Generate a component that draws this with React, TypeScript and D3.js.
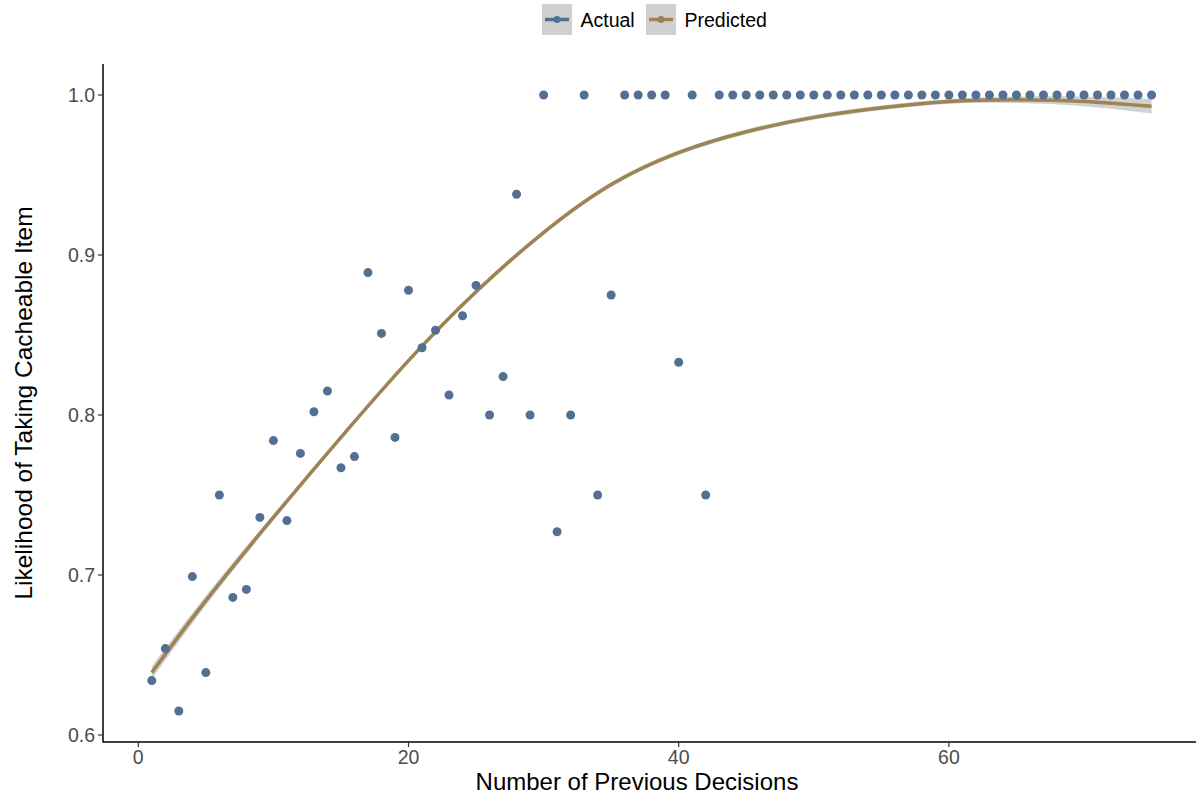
import * as d3 from "d3";

// observed: share of cacheable-item choices by number of previous decisions
const decisions = d3.range(1, 76);
const actual = [
  0.634, 0.654, 0.615, 0.699, 0.639, 0.75, 0.686, 0.691, 0.736, 0.784,
  0.734, 0.776, 0.802, 0.815, 0.767, 0.774, 0.889, 0.851, 0.786, 0.878,
  0.842, 0.853, 0.8125, 0.862, 0.881, 0.8, 0.824, 0.938, 0.8, 1.0,
  0.727, 0.8, 1.0, 0.75, 0.875, 1.0, 1.0, 1.0, 1.0, 0.833,
  1.0, 0.75, 1.0, 1.0, 1.0, 1.0, 1.0, 1.0, 1.0, 1.0,
  1.0, 1.0, 1.0, 1.0, 1.0, 1.0, 1.0, 1.0, 1.0, 1.0,
  1.0, 1.0, 1.0, 1.0, 1.0, 1.0, 1.0, 1.0, 1.0, 1.0,
  1.0, 1.0, 1.0, 1.0, 1.0,
];

const fitX = [1, 5, 10, 15, 20, 25, 30, 35, 40, 45, 50, 55, 60, 65, 70, 75];
const fitY = [0.639, 0.684, 0.736, 0.786, 0.834, 0.877, 0.914, 0.944, 0.964, 0.977, 0.986, 0.992, 0.996, 0.997, 0.996, 0.993];
const fitSe = [0.004, 0.003, 0.002, 0.0015, 0.0015, 0.0015, 0.0015, 0.0015, 0.0015, 0.0015, 0.0015, 0.0015, 0.0015, 0.002, 0.003, 0.0045];

const xTicks = [0, 20, 40, 60];
const yTicks = [0.6, 0.7, 0.8, 0.9, 1.0];
const legendItems = ["Actual", "Predicted"];

const W = 1196;
const H = 795;
const m = { left: 103, right: 0, top: 64, bottom: 742 };
const blue = "#536f92";
const gold = "#9c8453";
const font = "'Liberation Sans', Arial, sans-serif";

export default function App() {
  const x = d3.scaleLinear().domain([0, 60]).range([138.3, 948.9]);
  const y = d3.scaleLinear().domain([0.6, 1.0]).range([735, 95]);

  const fit = fitX.map((v, i) => ({ x: v, y: fitY[i], se: fitSe[i] }));
  const line = d3.line<any>().x(d => x(d.x)).y(d => y(d.y)).curve(d3.curveNatural);
  const band = d3.area<any>()
    .x(d => x(d.x))
    .y0(d => y(d.y - d.se))
    .y1(d => y(d.y + d.se))
    .curve(d3.curveNatural);

  const legendColors = [blue, gold];
  const legendX = [542, 646];

  return (
    <svg width={W} height={H} style={{ position: "absolute", left: 0, top: 0 }} fontFamily={font}>
      <rect width={W} height={H} fill="white" />

      {/* legend */}
      {legendItems.map((name, i) => (
        <g key={name} transform={`translate(${legendX[i]},4)`}>
          <rect width={30} height={31} fill="#d0d0d0" />
          <line x1={3} x2={27} y1={15.5} y2={15.5} stroke={legendColors[i]} strokeWidth={3.5} />
          <circle cx={15} cy={15.5} r={3.5} fill={legendColors[i]} />
          <text x={38.5} y={23} fontSize={19.5} fill="#000">{name}</text>
        </g>
      ))}

      {/* confidence band + fitted line */}
      <path d={band(fit) || ""} fill="#bdbdbd" opacity={0.7} />
      <path d={line(fit) || ""} fill="none" stroke={gold} strokeWidth={3.5} />

      {/* points */}
      {decisions.map((d, i) => (
        <circle key={d} cx={x(d)} cy={y(actual[i])} r={4.5} fill={blue} />
      ))}

      {/* axes */}
      <line x1={m.left} x2={m.left} y1={m.top} y2={m.bottom + 0.5} stroke="#000" strokeWidth={1.5} />
      <line x1={m.left} x2={W} y1={m.bottom} y2={m.bottom} stroke="#000" strokeWidth={1.5} />
      {yTicks.map(t => (
        <g key={t}>
          <line x1={m.left - 5} x2={m.left} y1={y(t)} y2={y(t)} stroke="#333" strokeWidth={1.2} />
          <text x={m.left - 8} y={y(t)} dy="0.36em" textAnchor="end" fontSize={19.5} fill="#4d4d4d">
            {d3.format(".1f")(t)}
          </text>
        </g>
      ))}
      {xTicks.map(t => (
        <g key={t}>
          <line x1={x(t)} x2={x(t)} y1={m.bottom} y2={m.bottom + 5} stroke="#333" strokeWidth={1.2} />
          <text x={x(t)} y={764} textAnchor="middle" fontSize={19.5} fill="#4d4d4d">{t}</text>
        </g>
      ))}

      <text x={637} y={790} textAnchor="middle" fontSize={24} fill="#000">Number of Previous Decisions</text>
      <text transform={`translate(32,403) rotate(-90)`} textAnchor="middle" fontSize={24.5} fill="#000">
        Likelihood of Taking Cacheable Item
      </text>
    </svg>
  );
}
